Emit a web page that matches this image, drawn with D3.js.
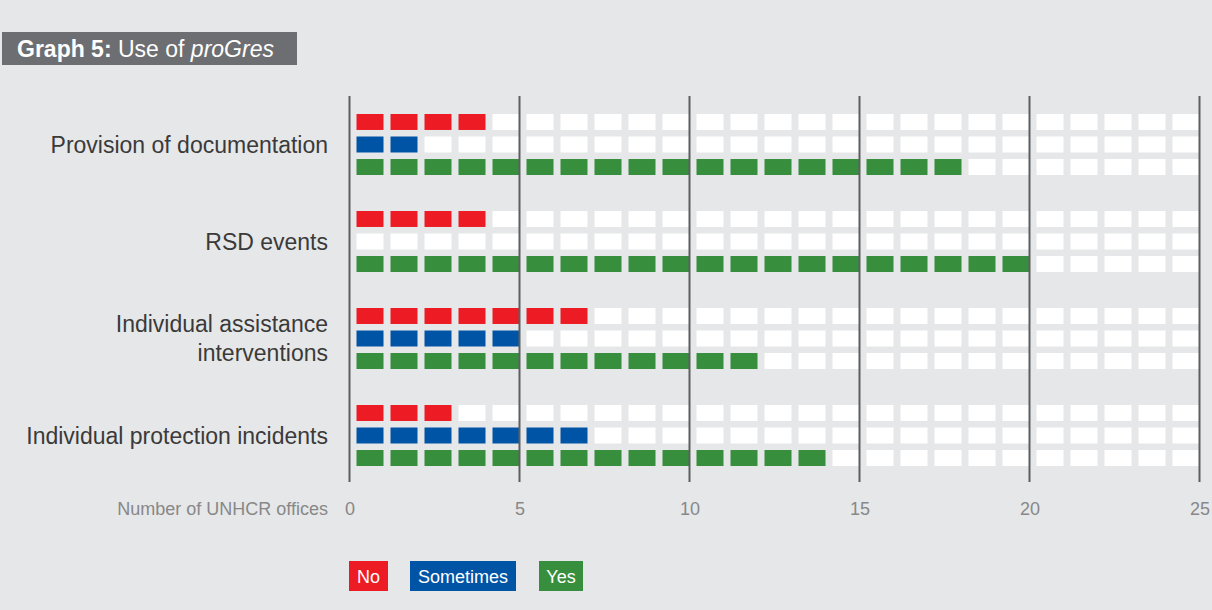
<!DOCTYPE html>
<html>
<head>
<meta charset="utf-8">
<script src="https://cdn.jsdelivr.net/npm/d3@7"></script>
<style>
  html, body { margin: 0; padding: 0; background: #e6e7e8; }
  svg { display: block; font-family: "Liberation Sans", Arial, sans-serif; }
</style>
</head>
<body>
<svg id="chart"></svg>
<script>
// data
const categories = ["Provision of documentation", "RSD events", "Individual assistance interventions", "Individual protection incidents"];
const categoryLines = [["Provision of documentation"], ["RSD events"], ["Individual assistance", "interventions"], ["Individual protection incidents"]];
const seriesNames = ["No", "Sometimes", "Yes"];
const noValues = [4, 4, 7, 3];
const sometimesValues = [2, 0, 5, 7];
const yesValues = [18, 20, 12, 14];
const tickValues = [0, 5, 10, 15, 20, 25];
const maxOffices = 25;

const colors = { "No": "#ed1c24", "Sometimes": "#0054a6", "Yes": "#378e3c" };
const seriesValues = [noValues, sometimesValues, yesValues];

const width = 1212, height = 610;
const svg = d3.select("#chart").attr("width", width).attr("height", height);

// title box
svg.append("rect").attr("x", 2).attr("y", 32).attr("width", 295).attr("height", 33).attr("fill", "#6d6e71");
const title = svg.append("text").attr("x", 17).attr("y", 57).attr("fill", "#fff").style("font-size", "23px");
title.append("tspan").attr("font-weight", "bold").text("Graph 5:");
title.append("tspan").text(" Use of ");
title.append("tspan").attr("font-style", "italic").text("proGres");

// scales
const x = d3.scaleLinear().domain([0, maxOffices]).range([349.5, 1199.5]);
const yGroup = d3.scaleBand().domain(categories).range([114, 502]).paddingInner(0).paddingOuter(0);
const ySeries = d3.scaleBand().domain(seriesNames).range([0, 61]).paddingInner(0.29);

// cells
const rows = [];
categories.forEach((c, ci) => {
    seriesNames.forEach((s, si) => {
        rows.push({ category: c, series: s, value: seriesValues[si][ci] });
    });
});
const cellW = 27;
const rowG = svg.selectAll(".row")
    .data(rows)
    .join("g")
    .attr("class", "row")
    .attr("transform", d => "translate(0," + (yGroup(d.category) + ySeries(d.series)) + ")");
rowG.selectAll("rect")
    .data(d => d3.range(maxOffices).map(i => ({ i: i, on: i < d.value, series: d.series })))
    .join("rect")
    .attr("x", d => x(d.i) + 7)
    .attr("width", cellW)
    .attr("height", ySeries.bandwidth())
    .attr("fill", d => d.on ? colors[d.series] : "#fff");

// vertical grid lines
svg.selectAll(".grid")
    .data(tickValues)
    .join("line")
    .attr("class", "grid")
    .attr("x1", d => x(d)).attr("x2", d => x(d))
    .attr("y1", 96).attr("y2", 482)
    .attr("stroke", "#5d5e60")
    .attr("stroke-width", 2);

// category labels
const labels = svg.selectAll(".cat")
    .data(categories)
    .join("text")
    .attr("class", "cat")
    .attr("text-anchor", "end")
    .attr("fill", "#3a3a3a")
    .style("font-size", "23px");
labels.each(function (d, i) {
    const lines = categoryLines[i];
    const cy = yGroup(d) + ySeries("Sometimes") + ySeries.bandwidth() / 2;
    const t = d3.select(this);
    lines.forEach((l, li) => {
        t.append("tspan")
            .attr("x", 328)
            .attr("y", cy + 8 + (li - (lines.length - 1) / 2) * 29)
            .text(l);
    });
});

// x axis tick labels
const axis = svg.append("g").attr("transform", "translate(0,515)")
    .call(d3.axisBottom(x).tickValues(tickValues).tickSize(0).tickPadding(0));
axis.select(".domain").remove();
axis.selectAll("text").attr("fill", "#888").style("font-size", "18px")
    .style("font-family", "'Liberation Sans', Arial, sans-serif").attr("dy", 0);
svg.append("text").attr("x", 328).attr("y", 515).attr("text-anchor", "end")
    .attr("fill", "#888").style("font-size", "18px").text("Number of UNHCR offices");

// legend
const legendX = [349, 410, 539];
const legendW = [39, 106, 44];
const legend = svg.selectAll(".legend")
    .data(seriesNames)
    .join("g")
    .attr("class", "legend")
    .attr("transform", (d, i) => "translate(" + legendX[i] + ",561)");
legend.append("rect").attr("width", (d, i) => legendW[i]).attr("height", 30).attr("fill", d => colors[d]);
legend.append("text").attr("x", (d, i) => legendW[i] / 2).attr("y", 22).attr("text-anchor", "middle")
    .attr("fill", "#fff").style("font-size", "18px").text(d => d);
</script>
</body>
</html>
